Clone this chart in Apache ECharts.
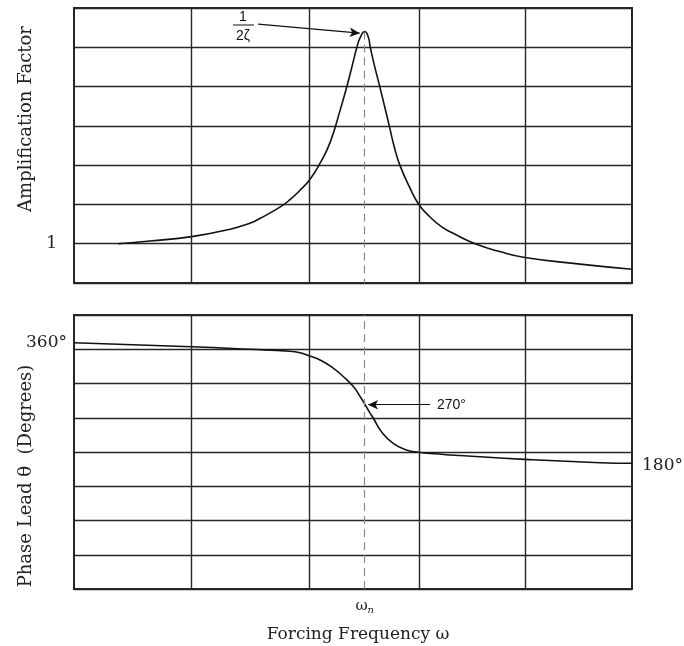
<!DOCTYPE html>
<html><head><meta charset="utf-8">
<script src="https://cdn.jsdelivr.net/npm/echarts@6/dist/echarts.min.js"></script>
<style>html,body{margin:0;padding:0;background:#fff}#c{width:684px;height:646px}</style>
</head><body><div id="c"></div>
<script>
// Amplification factor curve (x in arbitrary frequency units 0..10)
const ampX = [0.79, 1.36, 2.11, 2.80, 3.15, 3.33, 3.69, 3.87, 4.05, 4.23, 4.41, 4.59, 4.77, 4.89, 4.98, 5.07, 5.13, 5.21, 5.27, 5.31, 5.39, 5.48, 5.65, 5.74, 5.84, 6.02, 6.18, 6.38, 6.59, 6.83, 7.19, 7.63, 8.08, 9.07, 10.0];
const ampY = [1.00, 1.07, 1.18, 1.37, 1.52, 1.64, 1.93, 2.12, 2.36, 2.64, 3.05, 3.58, 4.40, 5.00, 5.50, 6.00, 6.25, 6.40, 6.28, 6.00, 5.50, 5.00, 4.00, 3.46, 3.00, 2.42, 2.00, 1.68, 1.43, 1.24, 1.00, 0.80, 0.65, 0.48, 0.35];
// Phase lead curve (degrees)
const phaseX = [0, 2.11, 3.15, 3.87, 4.05, 4.20, 4.41, 4.65, 4.83, 5.01, 5.13, 5.21, 5.30, 5.36, 5.51, 5.72, 5.96, 6.17, 6.62, 6.92, 8.08, 9.43, 10.0];
const phaseY = [359.5, 353.7, 350.0, 347.0, 344.8, 340.8, 334.3, 322.2, 309.9, 295.3, 280.7, 270.1, 257.5, 250.0, 229.6, 212.7, 202.9, 199.6, 196.4, 194.8, 189.3, 184.4, 183.5];
// Axis / grid values
const xGridValues = [2.11, 4.21, 6.18, 8.08];
const omegaN = 5.21;
const ampTickLabels = [1];
const phaseLeftLabels = [360];
const phaseRightLabels = [180];

const ampData = ampX.map((x, i) => [x, ampY[i]]);
const phaseData = phaseX.map((x, i) => [x, phaseY[i]]);
const peakY = Math.max(...ampY);

const serif = 'DejaVu Serif';
const sans = 'Liberation Sans';
const gridColor = '#262626';

const chart = echarts.init(document.getElementById('c'), null, {renderer: 'canvas'});

const vGrid = (xi, yi) => ({
  type: 'line', xAxisIndex: xi, yAxisIndex: yi, data: [], silent: true,
  markLine: {
    silent: true, symbol: 'none', animation: false,
    label: {show: false},
    lineStyle: {color: gridColor, width: 1.4, type: 'solid'},
    data: xGridValues.map(v => ({xAxis: v}))
  }
});

chart.setOption({
  animation: false,
  backgroundColor: '#fff',
  grid: [
    {left: 74, right: 52, top: 8, height: 275, show: true, borderColor: gridColor, borderWidth: 2, outerBoundsMode: 'none', containLabel: false},
    {left: 74, right: 52, top: 315, height: 274, show: true, borderColor: gridColor, borderWidth: 2, outerBoundsMode: 'none', containLabel: false}
  ],
  xAxis: [
    {type: 'value', gridIndex: 0, min: 0, max: 10, axisLine: {show: false}, axisTick: {show: false},
     axisLabel: {show: false}, splitLine: {show: false}},
    {type: 'value', gridIndex: 1, min: 0, max: 10, axisLine: {show: false}, axisTick: {show: false},
     splitLine: {show: false},
     axisLabel: {show: true, customValues: [omegaN], margin: 8,
       formatter: () => '{w|ω}{n|n}',
       rich: {w: {fontFamily: serif, fontSize: 15, color: '#222'},
              n: {fontFamily: serif, fontSize: 10, fontStyle: 'italic', color: '#222', padding: [8, 0, 0, 0]}}},
     name: 'Forcing Frequency ω', nameLocation: 'middle', nameGap: 37,
     nameTextStyle: {fontFamily: serif, fontSize: 17, color: '#222', padding: [0, 0, 0, 10]}}
  ],
  yAxis: [
    {type: 'value', gridIndex: 0, min: 0, max: 7, interval: 1,
     axisLine: {show: false}, axisTick: {show: false},
     axisLabel: {show: true, customValues: ampTickLabels, margin: 17, fontFamily: serif, fontSize: 17, color: '#222'},
     splitLine: {show: true, lineStyle: {color: gridColor, width: 1.4}}},
    {type: 'value', gridIndex: 1, min: 0, max: 400, interval: 50,
     axisLine: {show: false}, axisTick: {show: false},
     axisLabel: {show: true, customValues: phaseLeftLabels, margin: 7, fontFamily: serif, fontSize: 17, color: '#222',
       formatter: v => v + '°'},
     splitLine: {show: true, lineStyle: {color: gridColor, width: 1.4}}},
    {type: 'value', gridIndex: 1, min: 0, max: 400, position: 'right',
     axisLine: {show: false}, axisTick: {show: false},
     axisLabel: {show: true, customValues: phaseRightLabels, margin: 10, fontFamily: serif, fontSize: 17, color: '#222',
       formatter: v => v + '°'},
     splitLine: {show: false}}
  ],
  series: [
    vGrid(0, 0),
    vGrid(1, 1),
    {
      type: 'line', xAxisIndex: 0, yAxisIndex: 0, data: ampData, smooth: 0.5,
      showSymbol: false, lineStyle: {color: '#111', width: 1.6}, silent: true,
      markLine: {
        silent: true, animation: false, symbol: 'none', label: {show: false},
        data: [
          [{coord: [omegaN, peakY], lineStyle: {color: '#8a8a8a', width: 1.2, type: [8, 5]}},
           {coord: [omegaN, 0]}]
        ]
      }
    },
    {
      type: 'line', xAxisIndex: 0, yAxisIndex: 0, data: [], silent: true,
      markLine: {
        silent: true, animation: false, symbol: ['none', 'arrow'], symbolSize: [7, 10],
        label: {show: false},
        lineStyle: {color: '#111', width: 1.2, type: 'solid'},
        data: [[{coord: [3.30, 6.59]}, {coord: [5.12, 6.36]}]]
      }
    },
    {
      type: 'line', xAxisIndex: 1, yAxisIndex: 1, data: phaseData, smooth: 0.5,
      showSymbol: false, lineStyle: {color: '#111', width: 1.6}, silent: true,
      markLine: {
        silent: true, animation: false, symbol: 'none', label: {show: false},
        data: [{xAxis: omegaN, lineStyle: {color: '#8a8a8a', width: 1.2, type: [8, 5]}}]
      }
    },
    {
      type: 'line', xAxisIndex: 1, yAxisIndex: 1, data: [], silent: true,
      markLine: {
        silent: true, animation: false, symbol: ['none', 'arrow'], symbolSize: [7, 10],
        lineStyle: {color: '#111', width: 1.2, type: 'solid'},
        label: {show: true, position: 'start', distance: 7, formatter: '270°',
                fontFamily: sans, fontSize: 14, color: '#111'},
        data: [[{coord: [6.38, 269]}, {coord: [5.27, 269]}]]
      }
    }
  ],
  graphic: [
    {type: 'text', x: 26, y: 119, rotation: Math.PI / 2,
     style: {text: 'Amplification Factor', fontFamily: serif, fontSize: 18, fill: '#222',
             align: 'center', verticalAlign: 'middle'}},
    {type: 'text', x: 26, y: 476, rotation: Math.PI / 2,
     style: {text: 'Phase Lead θ  (Degrees)', fontFamily: serif, fontSize: 18, fill: '#222',
             align: 'center', verticalAlign: 'middle'}},
    {type: 'text', x: 243, y: 17,
     style: {text: '1', fontFamily: sans, fontSize: 14, fill: '#111', align: 'center', verticalAlign: 'middle'}},
    {type: 'line', shape: {x1: 233, y1: 25, x2: 254, y2: 25}, style: {stroke: '#111', lineWidth: 1}},
    {type: 'text', x: 243, y: 36,
     style: {text: '2ζ', fontFamily: sans, fontSize: 14, fill: '#111', align: 'center', verticalAlign: 'middle'}}
  ]
});
</script>
</body></html>
